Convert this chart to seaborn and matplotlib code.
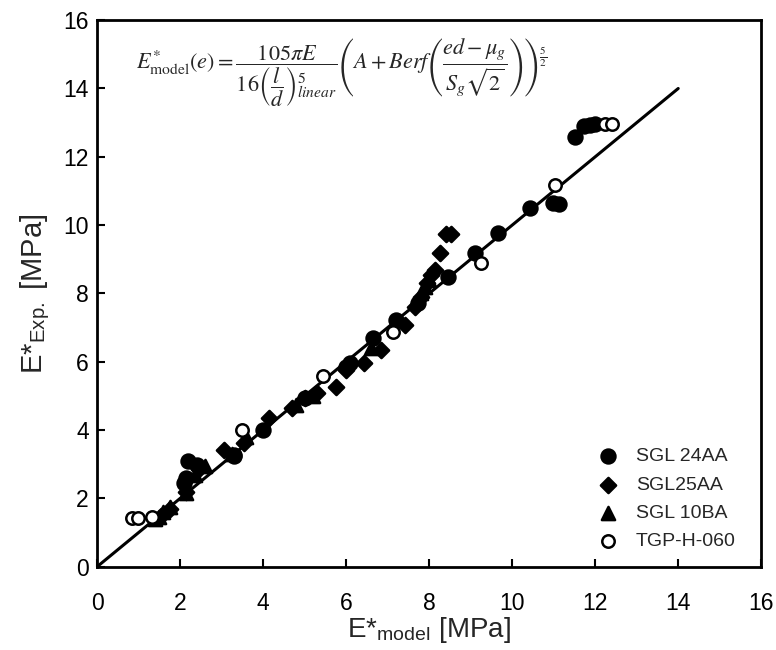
import matplotlib
matplotlib.use("Agg")
import matplotlib.pyplot as plt
import seaborn as sns
import pandas as pd

sns.set_style("ticks")
plt.rcParams['font.family'] = ['Liberation Sans', 'DejaVu Sans']
plt.rcParams['mathtext.fontset'] = 'stix'

# SGL 24AA - filled circles
sgl24_x = [2.1, 2.15, 2.18, 2.4, 3.3, 3.3, 4.0, 5.0, 6.1, 6.0, 6.66, 7.21, 7.74,
           8.46, 9.1, 9.65, 10.44, 10.99, 11.14, 11.52, 11.74, 11.88, 12.0]
sgl24_y = [2.45, 2.6, 3.1, 2.98, 3.28, 3.25, 4.0, 4.95, 5.97, 5.85, 6.7, 7.22, 7.72,
           8.48, 9.18, 9.77, 10.5, 10.65, 10.62, 12.58, 12.9, 12.93, 12.95]

# SGL25AA - filled diamonds
sgl25_x = [1.55, 1.75, 2.15, 2.45, 3.07, 3.55, 4.14, 4.7, 5.0, 5.3, 5.75, 6.0, 6.42,
           6.85, 7.42, 7.65, 7.8, 7.95, 8.05, 8.15, 8.26, 8.41, 8.53]
sgl25_y = [1.5, 1.7, 2.2, 2.85, 3.42, 3.62, 4.36, 4.65, 4.95, 5.1, 5.27, 5.76, 5.97,
           6.35, 7.08, 7.6, 7.9, 8.3, 8.55, 8.7, 9.18, 9.74, 9.74]

# SGL 10BA - filled triangles
sgl10_x = [1.4, 1.5, 1.6, 1.75, 2.15, 2.35, 2.59, 3.25, 3.6, 4.8, 5.2, 6.59, 7.8, 7.9, 8.0]
sgl10_y = [1.4, 1.45, 1.6, 1.75, 2.16, 2.7, 2.95, 3.3, 3.8, 4.75, 5.0, 6.4, 8.0, 8.2, 8.4]

# TGP-H-060 - open circles
tgp_x = [0.84, 0.98, 1.32, 3.5, 5.45, 7.14, 9.25, 11.04, 12.24, 12.4]
tgp_y = [1.43, 1.43, 1.46, 4.0, 5.57, 6.87, 8.89, 11.17, 12.96, 12.96]

line_x = [0, 14]
line_y = [0, 14]

fig, ax = plt.subplots(figsize=(7.76, 6.5), dpi=100)
fig.subplots_adjust(left=0.125, right=0.981, bottom=0.128, top=0.969)

ax.plot(line_x, line_y, color='black', lw=2.2, zorder=1)

series = [
    ("SGL 24AA", sgl24_x, sgl24_y, 'o', 'black', 100),
    ("SGL25AA", sgl25_x, sgl25_y, 'D', 'black', 60),
    ("SGL 10BA", sgl10_x, sgl10_y, '^', 'black', 90),
    ("TGP-H-060", tgp_x, tgp_y, 'o', 'white', 80),
]
for name, xs, ys, mk, fc, sz in series:
    df = pd.DataFrame({"x": xs, "y": ys})
    sns.scatterplot(data=df, x="x", y="y", ax=ax, marker=mk, s=sz,
                    facecolor=fc, edgecolor='black', linewidth=1.8,
                    label=name, zorder=3)

ax.set_xlim(0, 16)
ax.set_ylim(0, 16)
ax.set_xticks(range(0, 17, 2))
ax.set_yticks(range(0, 17, 2))
ax.tick_params(direction='in', length=6, width=1.5, labelsize=16.5, colors='black')
ax.tick_params(axis='x', pad=18)
ax.tick_params(axis='y', pad=6)
for sp in ax.spines.values():
    sp.set_linewidth(2)
    sp.set_color('black')
    sp.set_visible(True)

ax.set_xlabel(r"E*$_{\mathregular{model}}$ [MPa]", fontsize=20, labelpad=0)
ax.set_ylabel(r"E*$_{\mathregular{Exp.}}$ [MPa]", fontsize=21, labelpad=8)

formula = (r"$E^{*}_{\mathrm{model}}\left(e\right)=\dfrac{105\pi E}{16\left(\dfrac{l}{d}\right)^{5}_{linear}}"
           r"\left(A+Berf\left(\dfrac{ed-\mu_g}{S_g\sqrt{2}}\right)\right)^{\frac{5}{2}}$")
ax.text(5.9, 14.45, formula, fontsize=16, ha='center', va='center')

leg = ax.legend(loc='lower right', bbox_to_anchor=(0.973, 0.016), frameon=False,
                fontsize=14, handletextpad=0.4, labelspacing=0.55,
                borderaxespad=0.0, markerscale=1.0)

fig.savefig("out.png", dpi=100)
